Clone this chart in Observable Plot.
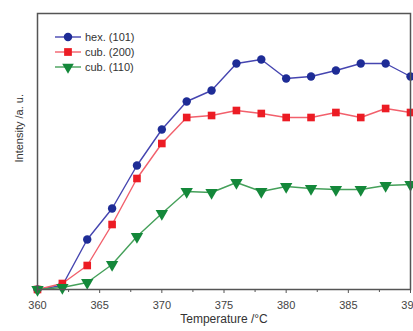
<!DOCTYPE html>
<html>
<head>
<meta charset="utf-8">
<script src="https://cdn.jsdelivr.net/npm/d3@7"></script>
<script src="https://cdn.jsdelivr.net/npm/@observablehq/plot@0.6"></script>
<style>
html, body { margin: 0; padding: 0; background: #fff; overflow: hidden; }
#chart svg { display: block; overflow: visible; }
</style>
</head>
<body>
<div id="chart"></div>
<script>
const temperature = [360, 362, 364, 366, 368, 370, 372, 374, 376, 378, 380, 382, 384, 386, 388, 390];
const hex101 = [0, 4, 50, 81, 124, 160, 188, 199, 226, 230, 211, 213, 219, 226, 226, 213];
const cub200 = [0, 6, 24, 65, 111, 146, 172, 174, 179, 176, 172, 172, 177, 172, 181, 177];
const cub110 = [0, 2, 7, 25, 53, 76, 98, 97, 107, 98, 103, 101, 100, 100, 104, 105];
const seriesNames = ["hex. (101)", "cub. (200)", "cub. (110)"];
const lineColors = ["#4545b0", "#f2606c", "#45a05a"];
const markColors = ["#1e2c96", "#ec1c24", "#14883a"];
const symbols = ["circle", "square", "triangle"];
const symbolRotate = [0, 0, 180];
const xTicks = [360, 365, 370, 375, 380, 385, 390];
const xMinorTicks = [362.5, 367.5, 372.5, 377.5, 382.5, 387.5];
const xLabel = "Temperature /°C";
const yLabel = "Intensity /a. u.";

const allSeries = [hex101, cub200, cub110];
const data = [];
allSeries.forEach((vals, si) => {
  vals.forEach((v, i) => data.push({series: seriesNames[si], t: temperature[i], v}));
});

const W = 413, H = 331;

const chart = Plot.plot({
  width: W,
  height: H,
  marginLeft: 37,
  marginRight: 3,
  marginTop: 13,
  marginBottom: 42,
  style: {fontFamily: "Liberation Sans, Arial, sans-serif", fontSize: "11px", color: "#444", background: "#fff"},
  x: {domain: [360, 390]},
  y: {domain: [0, 276], axis: null},
  marks: [
    Plot.line(data, {x: "t", y: "v", z: "series", stroke: d => lineColors[seriesNames.indexOf(d.series)], strokeWidth: 1.4}),
    ...seriesNames.map((name, si) =>
      Plot.dot(data.filter(d => d.series === name), {
        x: "t", y: "v", symbol: symbols[si], rotate: symbolRotate[si], fill: markColors[si], stroke: "none",
        r: si === 0 ? 4.2 : si === 1 ? 4.3 : 4.6
      })
    ),
    Plot.axisX({ticks: xMinorTicks, tickSize: 3, tickFormat: () => "", stroke: "#555", label: null}),
    Plot.axisX({ticks: xTicks, tickSize: 4, tickPadding: 8, tickFormat: d => String(d), stroke: "#555", fill: "#444", fontSize: 11, label: null}),
    Plot.text([xLabel], {frameAnchor: "bottom", dy: 33, text: d => d, fontSize: 12, fill: "#333"}),
    Plot.text([yLabel], {frameAnchor: "left", dx: -18, dy: 11, rotate: -90, text: d => d, fontSize: 11, fill: "#333"}),
    Plot.frame({stroke: "#555", strokeWidth: 1.5})
  ]
});

// Legend inside the plot, top-left
const svg = d3.select(chart);
const lg = svg.append("g").attr("transform", "translate(55,37)");
const symGen = [d3.symbolCircle, d3.symbolSquare, d3.symbolTriangle];
const symSize = [56, 60, 58];
seriesNames.forEach((name, i) => {
  const row = lg.append("g").attr("transform", `translate(0,${i * 15})`);
  row.append("line").attr("x1", 0).attr("x2", 26).attr("y1", 0).attr("y2", 0)
    .attr("stroke", lineColors[i]).attr("stroke-width", 1.4);
  row.append("path").attr("d", d3.symbol(symGen[i], symSize[i])())
    .attr("transform", `translate(13,0)${i === 2 ? " rotate(180)" : ""}`)
    .attr("fill", markColors[i]);
  row.append("text").attr("x", 30).attr("y", 0).attr("dy", "0.35em")
    .attr("text-anchor", "start")
    .attr("font-size", 11).attr("fill", "#333").text(name);
});

document.getElementById("chart").appendChild(chart);
</script>
</body>
</html>
